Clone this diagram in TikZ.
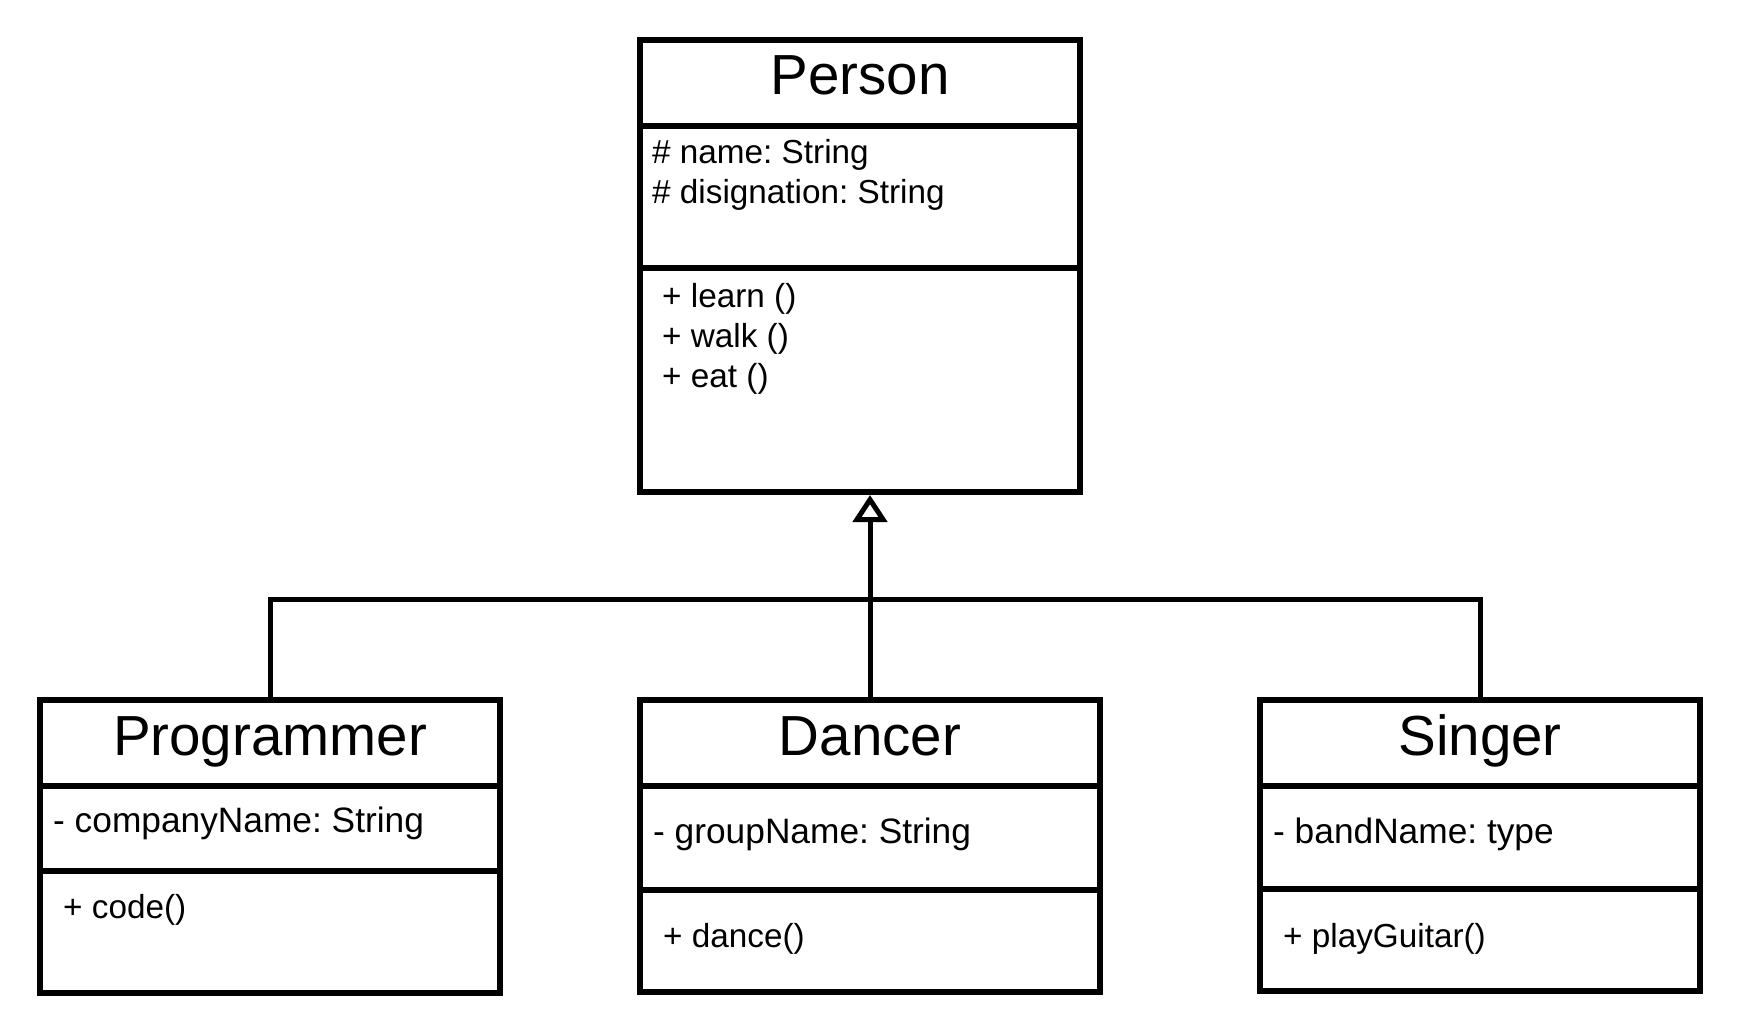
\documentclass[tikz,border=0pt]{standalone}
\usepackage{fontspec}
\setmainfont{Liberation Sans}
\usetikzlibrary{arrows.meta}
\frenchspacing
\tikzset{
  classbox/.style={draw, line width=6pt, rectangle, inner sep=0pt},
  divider/.style={line width=6pt},
  ctitle/.style={anchor=base, font=\fontsize{56.5}{67}\selectfont, inner sep=0pt},
  member/.style={anchor=base west, font=\fontsize{33.3}{40}\selectfont, inner sep=0pt},
  bigmember/.style={member, font=\fontsize{35.3}{42}\selectfont},
  link/.style={line width=5pt},
  inherit/.style={link, -{Triangle[open, length=27pt, width=34pt]}},
}
\begin{document}
\begin{tikzpicture}[x=1pt, y=-1pt]
\useasboundingbox (0,0) rectangle (1740,1033);
% Person
\node[classbox, minimum width=440pt, minimum height=452pt] (person) at (860,266) {};
\draw[divider] (person.west |- 0,126) -- (person.east |- 0,126);
\draw[divider] (person.west |- 0,268) -- (person.east |- 0,268);
\node[ctitle] (personT) at (860,95) {Person};
\node[member] (pA1) at (652,163) {\# name: String};
\node[member] (pA2) at (652,203) {\# disignation: String};
\node[member] (pM1) at (662,307) {+ learn ()};
\node[member] (pM2) at (662,347) {+ walk ()};
\node[member] (pM3) at (662,387) {+ eat ()};
% Programmer
\node[classbox, minimum width=460pt, minimum height=293pt] (prog) at (270,846.5) {};
\draw[divider] (prog.west |- 0,786) -- (prog.east |- 0,786);
\draw[divider] (prog.west |- 0,871) -- (prog.east |- 0,871);
\node[ctitle] (progT) at (270,755) {Programmer};
\node[bigmember] (progA) at (53,832) {- companyName: String};
\node[member] (progM) at (63,918) {+ code()};
% Dancer
\node[classbox, minimum width=460pt, minimum height=292pt] (dancer) at (870,846) {};
\draw[divider] (dancer.west |- 0,786) -- (dancer.east |- 0,786);
\draw[divider] (dancer.west |- 0,890) -- (dancer.east |- 0,890);
\node[ctitle] (dancerT) at (870,755) {Dancer};
\node[bigmember] (dancerA) at (653,843) {- groupName: String};
\node[member] (dancerM) at (663,947) {+ dance()};
% Singer
\node[classbox, minimum width=440pt, minimum height=291pt] (singer) at (1480,845.5) {};
\draw[divider] (singer.west |- 0,786) -- (singer.east |- 0,786);
\draw[divider] (singer.west |- 0,889) -- (singer.east |- 0,889);
\node[ctitle] (singerT) at (1480,755) {Singer};
\node[bigmember] (singerA) at (1273,843) {- bandName: type};
\node[member] (singerM) at (1283,947) {+ playGuitar()};
% connectors
\coordinate (bus) at (870,599);
\draw[link] (prog.north) |- (bus) -| (singer.north);
\draw[inherit] (dancer.north) -- (dancer.north |- person.south);
\end{tikzpicture}
\end{document}
